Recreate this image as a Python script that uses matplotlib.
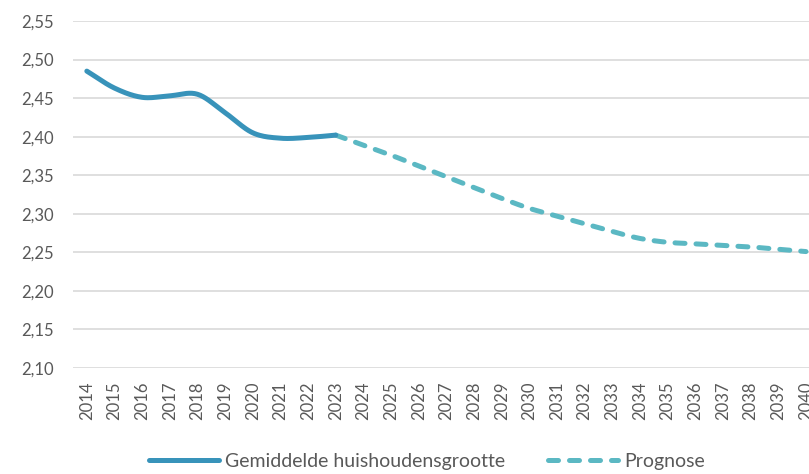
import numpy as np
import matplotlib.pyplot as plt

plt.rcParams['font.family'] = ['Lato', 'DejaVu Sans']

years = list(range(2014, 2041))
actual_years = list(range(2014, 2024))
actual = [2.485, 2.463, 2.451, 2.453, 2.455, 2.431, 2.405, 2.398, 2.399, 2.402]
forecast_years = list(range(2023, 2041))
forecast = [2.402, 2.389, 2.376, 2.362, 2.348, 2.334, 2.320, 2.307, 2.297, 2.287,
            2.277, 2.268, 2.263, 2.261, 2.259, 2.257, 2.254, 2.251]


def smooth(x, y, n=20):
    # Catmull-Rom style smoothing, like Excel's "smoothed line"
    x = np.asarray(x, float)
    y = np.asarray(y, float)
    px = np.concatenate([[2 * x[0] - x[1]], x, [2 * x[-1] - x[-2]]])
    py = np.concatenate([[2 * y[0] - y[1]], y, [2 * y[-1] - y[-2]]])
    xs, ys = [], []
    t = np.linspace(0, 1, n, endpoint=False)
    for i in range(1, len(px) - 2):
        p0, p1, p2, p3 = py[i - 1], py[i], py[i + 1], py[i + 2]
        yy = 0.5 * ((2 * p1) + (-p0 + p2) * t + (2 * p0 - 5 * p1 + 4 * p2 - p3) * t ** 2
                    + (-p0 + 3 * p1 - 3 * p2 + p3) * t ** 3)
        xx = px[i] + (px[i + 1] - px[i]) * t
        xs.extend(xx)
        ys.extend(yy)
    xs.append(x[-1])
    ys.append(y[-1])
    return np.array(xs), np.array(ys)


pos = {yr: i for i, yr in enumerate(years)}

fig = plt.figure(figsize=(8.09, 4.74), dpi=100)
ax = fig.add_axes([73 / 809, 1 - 368 / 474, 1 - 73 / 809, (368 - 21) / 474])

xa, ya = smooth([pos[y] for y in actual_years], actual)
xf, yf = smooth([pos[y] for y in forecast_years], forecast)

ax.plot(xf, yf, color='#5BB8C3', lw=3.6, ls=(0, (2.0, 2.2)), dash_capstyle='round',
        solid_capstyle='round', label='Prognose', zorder=3)
ax.plot(xa, ya, color='#3893BA', lw=3.6, solid_capstyle='round',
        label='Gemiddelde huishoudensgrootte', zorder=4)

ax.set_ylim(2.10, 2.55)
ax.set_xlim(-0.5, 26.11)
yt = np.arange(2.10, 2.551, 0.05)
ax.set_yticks(yt)
ax.set_yticklabels([f'{v:.2f}'.replace('.', ',') for v in yt])
ax.set_xticks(range(len(years)))
ax.set_xticklabels([str(y) for y in years], rotation=90)
ax.tick_params(length=0, labelsize=12, colors='#595959')
ax.tick_params(axis='x', pad=10)
ax.tick_params(axis='y', pad=14)
ax.grid(axis='y', color='#D9D9D9', lw=1.2)
ax.set_axisbelow(True)
for s in ax.spines.values():
    s.set_visible(False)

h, l = ax.get_legend_handles_labels()
leg = fig.legend(h[::-1], l[::-1], loc='center', bbox_to_anchor=(0.528, 0.026), ncol=2,
                 frameon=False, handlelength=3.6, columnspacing=2.2, fontsize=14,
                 handletextpad=0.3)
for t in leg.get_texts():
    t.set_color('#595959')

fig.savefig('out.png', dpi=100)
